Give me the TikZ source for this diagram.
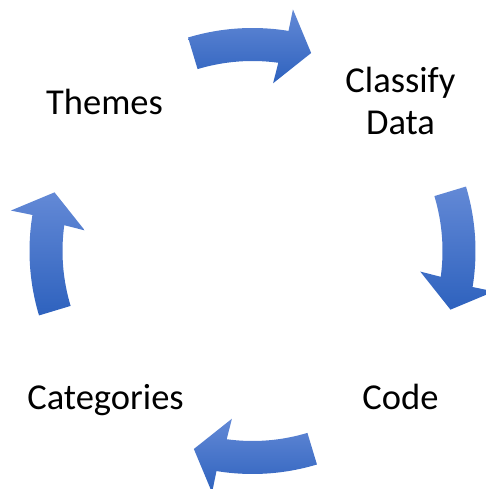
\documentclass[tikz,border=0pt]{standalone}
\usepackage{fontspec}
\setmainfont{Carlito}
\usepackage{tikz}

\definecolor{arrowtop}{RGB}{99,137,214}
\definecolor{arrowbot}{RGB}{46,98,190}

% curved block arrow around the hub, #1 = angle of its tail
\newcommand{\cyclearrow}[1]{%
  \path[bluearrow] (#1:190) -- (#1:223)
    arc[start angle=#1, end angle={#1-26.1}, radius=223]
    -- ({#1-26.3}:245) -- ({#1-33.3}:206.5) -- ({#1-23.8}:169)
    -- ({#1-24.6}:190) arc[start angle={#1-24.6}, end angle=#1, radius=190]
    -- cycle;}

\begin{document}
\begin{tikzpicture}[x=1pt, y=1pt,
    bluearrow/.style={top color=arrowtop, bottom color=arrowbot, draw=none},
    cyclelabel/.style={anchor=base, inner sep=0pt, align=center,
                       font=\fontsize{36.5}{42}\selectfont}]
    \useasboundingbox (0,0) rectangle (485,489);
    \coordinate (hub) at (252.5,238);

    \node[cyclelabel] (themes)     at (104.5,374) {Themes};
    \node[cyclelabel] (classify)   at (400.5,354) {Classify\\Data};
    \node[cyclelabel] (code)       at (400.5,79)  {Code};
    \node[cyclelabel] (categories) at (105.5,79)  {Categories};

    \begin{scope}[shift={(hub)}]
        \foreach \tail in {106.8, 16.8, -73.2, -163.2}
            {\cyclearrow{\tail}}
    \end{scope}
\end{tikzpicture}
\end{document}
